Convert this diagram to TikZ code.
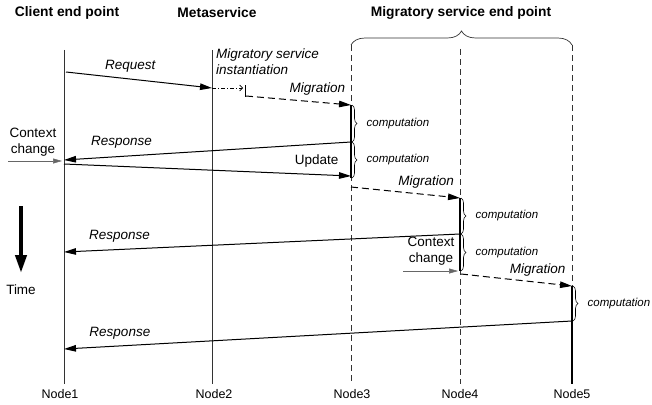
\documentclass[tikz,border=0pt]{standalone}
\usepackage{fontspec}
\setmainfont{Liberation Sans}
\usetikzlibrary{positioning,arrows.meta,decorations.pathreplacing}

\begin{document}
\begin{tikzpicture}[x=1pt,y=-1pt,>={Triangle[length=12pt,width=6.5pt]},
    font=\fontsize{13.5}{16}\selectfont,
    msg/.style={->,draw,line width=1pt},
    mig/.style={msg,dash pattern=on 7pt off 4pt},
    life/.style={draw,line width=.7pt,black!80},
    dlife/.style={life,dash pattern=on 6pt off 4pt},
    busy/.style={draw,line width=1.4pt},
    ctx/.style={->,draw,line width=.5pt,black!60,>={Triangle[length=9pt,width=5pt]}},
    comp/.style={draw,decorate,decoration={brace,amplitude=5pt,raise=1pt},line width=.6pt},
    head/.style={font=\bfseries\fontsize{13.8}{16}\selectfont},
    msglbl/.style={font=\itshape\fontsize{13.5}{16}\selectfont},
    complbl/.style={font=\itshape\fontsize{11.5}{13}\selectfont,right=12pt},
    nodelbl/.style={font=\fontsize{12.5}{14}\selectfont}]
  \useasboundingbox (0,0) rectangle (652,404);

  % headings
  \node[head] (hc) at (67,13) {Client end point};
  \node[head] (hm) at (217,13) {Metaservice};
  \node[head] (hs) at (461,13) {Migratory service end point};

  % lifelines
  \coordinate (t1) at (64,50);   \coordinate (b1) at (64,384);
  \coordinate (t2) at (212,50);  \coordinate (b2) at (212,384);
  \coordinate (t3) at (351,45);  \coordinate (b3) at (351,384);
  \coordinate (t4) at (460,49);  \coordinate (b4) at (460,384);
  \coordinate (t5) at (572,45);  \coordinate (b5) at (572,384);
  \node[nodelbl] (n1) at (60,394) {Node1};
  \node[nodelbl] (n2) at (214,394) {Node2};
  \node[nodelbl] (n3) at (352,394) {Node3};
  \node[nodelbl] (n4) at (460,394) {Node4};
  \node[nodelbl] (n5) at (572,394) {Node5};
  \path[life] (t1) -- (b1);
  \path[life] (t2) -- (b2);
  \path[dlife] (t3) -- (b3);
  \path[dlife] (t4) -- (b4);
  \path[dlife] (t5) -- (b5);
  \path[life,decorate,decoration={brace,amplitude=14pt}] (t3) -- (t5);

  % busy periods
  \coordinate (c3a) at (351,105); \coordinate (c3b) at (351,142); \coordinate (c3c) at (351,178);
  \coordinate (c4a) at (460,198); \coordinate (c4b) at (460,234); \coordinate (c4c) at (460,271);
  \coordinate (c5a) at (572,286); \coordinate (c5b) at (572,321);
  \path[busy] (c3a) -- (c3c);
  \path[busy] (c4a) -- (c4c);
  \path[busy] (c5a) -- (b5);
  \path[comp] (c3a) -- node[complbl] (cp1) {computation} (c3b);
  \path[comp] (c3b) -- node[complbl] (cp2) {computation} (c3c);
  \path[comp] (c4a) -- node[complbl] (cp3) {computation} (c4b);
  \path[comp] (c4b) -- node[complbl] (cp4) {computation} (c4c);
  \path[comp] (c5a) -- node[complbl] (cp5) {computation} (c5b);

  % request and instantiation
  \coordinate (req1) at (66,72);  \coordinate (req2) at (212,88);
  \coordinate (ins) at (243,88);
  \coordinate (tk1) at (245,85);  \coordinate (tk2) at (245,97);
  \coordinate (m1a) at (246,96);
  \path (req1) edge[msg] node[msglbl,above=3pt,pos=.44] (lreq) {Request} (req2);
  \path[draw,line width=.6pt,dash pattern=on 4pt off 2pt on 1pt off 2pt,
        -{Straight Barb[length=3pt,width=6pt]}] (req2) -- (ins);
  \path[draw,line width=1pt] (tk1) -- (tk2);
  \node[msglbl,align=left,anchor=north west,inner sep=0pt] (lins) at (216,49)
    {Migratory service\\instantiation};

  % migrations
  \coordinate (m2a) at (351,187);
  \coordinate (m3a) at (461,274);
  \path (m1a) edge[mig] node[msglbl,above=3pt,pos=.68] (lmig1) {Migration} (c3a);
  \path (m2a) edge[mig] node[msglbl,above=2pt,pos=.69] (lmig2) {Migration} (c4a);
  \path (m3a) edge[mig] node[msglbl,above=2pt,pos=.69] (lmig3) {Migration} (c5a);

  % responses and update
  \coordinate (r1) at (64,160);
  \coordinate (u1) at (64,164);   \coordinate (u2) at (351,176);
  \coordinate (r2) at (64,252);
  \coordinate (r3) at (64,349);
  \path (c3b) edge[msg] node[msglbl,above=4pt,pos=.80] (lres1) {Response} (r1);
  \path (u1) edge[msg] node[above=3pt,pos=.88] (lupd) {Update} (u2);
  \path (c4b) edge[msg] node[msglbl,above=3pt,pos=.86] (lres2) {Response} (r2);
  \path (c5b) edge[msg] node[msglbl,above=3pt,pos=.89] (lres3) {Response} (r3);

  % context changes
  \coordinate (x1a) at (8,161);   \coordinate (x1b) at (62,161);
  \coordinate (x2a) at (403,271); \coordinate (x2b) at (458,271);
  \path[ctx] (x1a) -- (x1b);
  \path[ctx] (x2a) -- (x2b);
  \node[align=center] (lctx1) at (33,142) {Context\\change};
  \node[align=center] (lctx2) at (431,251) {Context\\change};

  % time
  \coordinate (tm1) at (21,206);  \coordinate (tm2) at (21,273);
  \path[draw,line width=4pt,-{Triangle[length=18pt,width=11pt]}] (tm1) -- (tm2);
  \node (ltime) at (21,290) {Time};
\end{tikzpicture}
\end{document}
